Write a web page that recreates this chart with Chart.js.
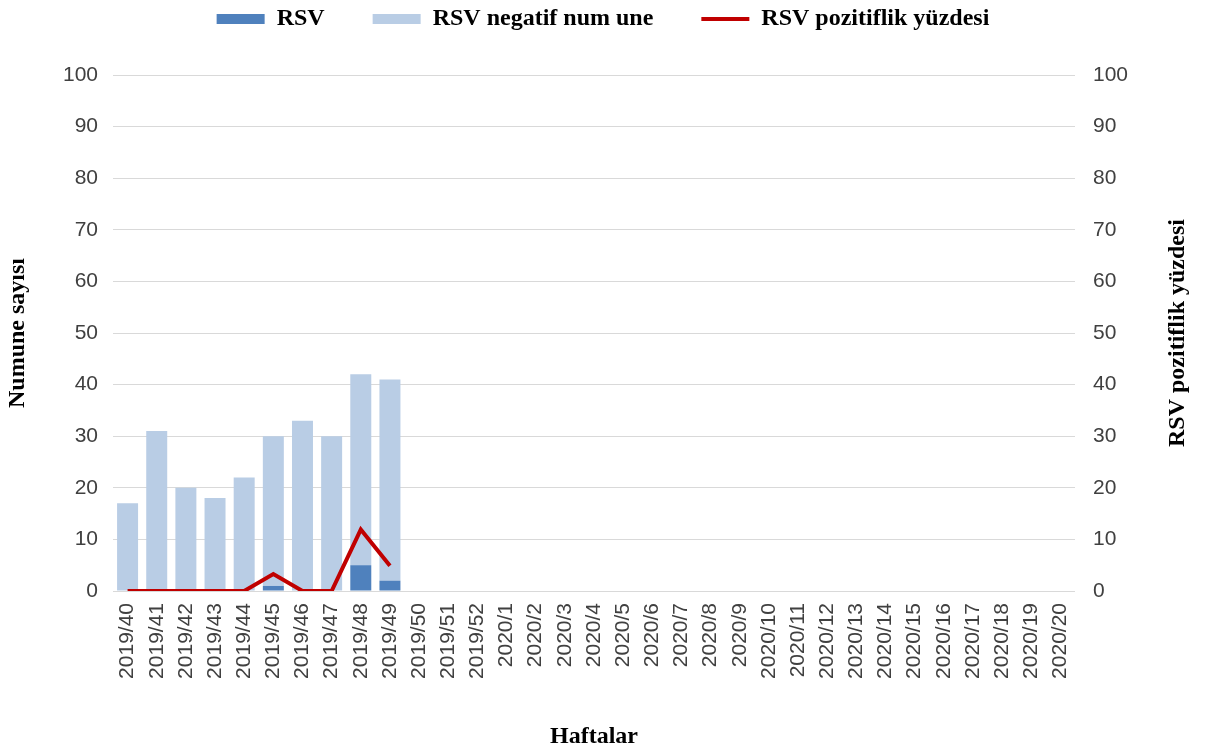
<!DOCTYPE html>
<html>
<head>
<meta charset="utf-8">
<title>RSV</title>
<script src="https://cdn.jsdelivr.net/npm/chart.js@4/dist/chart.umd.min.js"></script>
<style>
  html, body { margin: 0; padding: 0; background: #fff; }
  #wrap { width: 1206px; height: 751px; }
</style>
</head>
<body>
<div id="wrap"><canvas id="rsvChart" width="1206" height="751"></canvas></div>
<script>
// weeks on the x axis
const weeks = [
  '2019/40', '2019/41', '2019/42', '2019/43', '2019/44', '2019/45', '2019/46',
  '2019/47', '2019/48', '2019/49', '2019/50', '2019/51', '2019/52',
  '2020/1', '2020/2', '2020/3', '2020/4', '2020/5', '2020/6', '2020/7',
  '2020/8', '2020/9', '2020/10', '2020/11', '2020/12', '2020/13', '2020/14',
  '2020/15', '2020/16', '2020/17', '2020/18', '2020/19', '2020/20'
];
// sample counts (only weeks 40-49 have data)
const rsvPositive = [0, 0, 0, 0, 0, 1, 0, 0, 5, 2];
const rsvNegative = [17, 31, 20, 18, 22, 29, 33, 30, 37, 39];
// positivity percentage (right axis)
const rsvPercent = [0, 0, 0, 0, 0, 3.3, 0, 0, 11.9, 4.9];
const axisTicks = [0, 10, 20, 30, 40, 50, 60, 70, 80, 90, 100];

const tickFont = { family: '"Liberation Sans", Arial, sans-serif', size: 21 };
const titleFont = { family: '"Liberation Serif", "Times New Roman", serif', size: 24, weight: 'bold' };
const RED = '#C00000';

// legend needs more room below it than chart.js gives
const legendSpacer = {
  id: 'legendSpacer',
  afterInit(chart) {
    const fit = chart.legend.fit;
    chart.legend.fit = function () {
      fit.call(this);
      this.height = 116;
    };
  }
};

// right axis title reads bottom-to-top in the original
const rightTitle = {
  id: 'rightTitle',
  afterDraw(chart) {
    const area = chart.chartArea;
    const ctx = chart.ctx;
    ctx.save();
    ctx.translate(1178, (area.top + area.bottom) / 2);
    ctx.rotate(-Math.PI / 2);
    ctx.font = 'bold 24px "Liberation Serif", "Times New Roman", serif';
    ctx.fillStyle = '#000';
    ctx.textAlign = 'center';
    ctx.textBaseline = 'middle';
    ctx.fillText('RSV pozitiflik yüzdesi', 0, 0);
    ctx.restore();
  }
};

new Chart(document.getElementById('rsvChart'), {
  type: 'bar',
  data: {
    labels: weeks,
    datasets: [
      {
        label: 'RSV',
        data: rsvPositive,
        backgroundColor: '#4F81BD',
        stack: 'samples',
        order: 2,
        barPercentage: 0.72,
        categoryPercentage: 1
      },
      {
        label: 'RSV negatif num une',
        data: rsvNegative,
        backgroundColor: '#B9CDE5',
        stack: 'samples',
        order: 2,
        barPercentage: 0.72,
        categoryPercentage: 1
      },
      {
        type: 'line',
        label: 'RSV pozitiflik yüzdesi',
        data: rsvPercent,
        yAxisID: 'y1',
        borderColor: RED,
        backgroundColor: RED,
        borderWidth: 4,
        pointRadius: 0,
        tension: 0,
        order: 1
      }
    ]
  },
  options: {
    responsive: false,
    animation: false,
    layout: { padding: { top: -41, left: 0, right: 0, bottom: 0 } },
    plugins: {
      tooltip: { enabled: false },
      legend: {
        position: 'top',
        labels: {
          usePointStyle: true,
          pointStyleWidth: 48,
          boxHeight: 10,
          padding: 48,
          color: '#000',
          font: titleFont,
          sort: (a, b) => a.datasetIndex - b.datasetIndex,
          generateLabels(chart) {
            const items = Chart.defaults.plugins.legend.labels.generateLabels(chart);
            items.forEach(function (it) {
              if (it.datasetIndex < 2) {
                it.pointStyle = 'rect';
                it.lineWidth = 0;
              } else {
                it.pointStyle = 'line';
                it.lineWidth = 4;
                it.strokeStyle = RED;
              }
            });
            return items;
          }
        }
      }
    },
    scales: {
      x: {
        stacked: true,
        grid: { display: false, drawTicks: false },
        border: { display: false },
        ticks: {
          autoSkip: false,
          minRotation: 90,
          maxRotation: 90,
          padding: 12,
          color: '#404040',
          font: tickFont
        },
        title: {
          display: true,
          text: 'Haftalar',
          color: '#000',
          font: titleFont,
          padding: { top: 0, bottom: 0 }
        },
        afterFit(scale) { scale.height = 160; }
      },
      y: {
        stacked: true,
        position: 'left',
        min: 0,
        max: 100,
        afterBuildTicks(scale) { scale.ticks = axisTicks.map(v => ({ value: v })); },
        grid: { color: '#D9D9D9', lineWidth: 1, drawTicks: false },
        border: { display: false },
        ticks: { padding: 15, color: '#404040', font: tickFont },
        title: {
          display: true,
          text: 'Numune sayısı',
          color: '#000',
          font: titleFont,
          padding: { top: 3, bottom: 0 }
        },
        afterFit(scale) { scale.width = 113; }
      },
      y1: {
        position: 'right',
        min: 0,
        max: 100,
        afterBuildTicks(scale) { scale.ticks = axisTicks.map(v => ({ value: v })); },
        grid: { display: false, drawTicks: false },
        border: { display: false },
        ticks: { padding: 18, color: '#404040', font: tickFont },
        afterFit(scale) { scale.width = 131; }
      }
    }
  },
  plugins: [legendSpacer, rightTitle]
});
</script>
</body>
</html>
